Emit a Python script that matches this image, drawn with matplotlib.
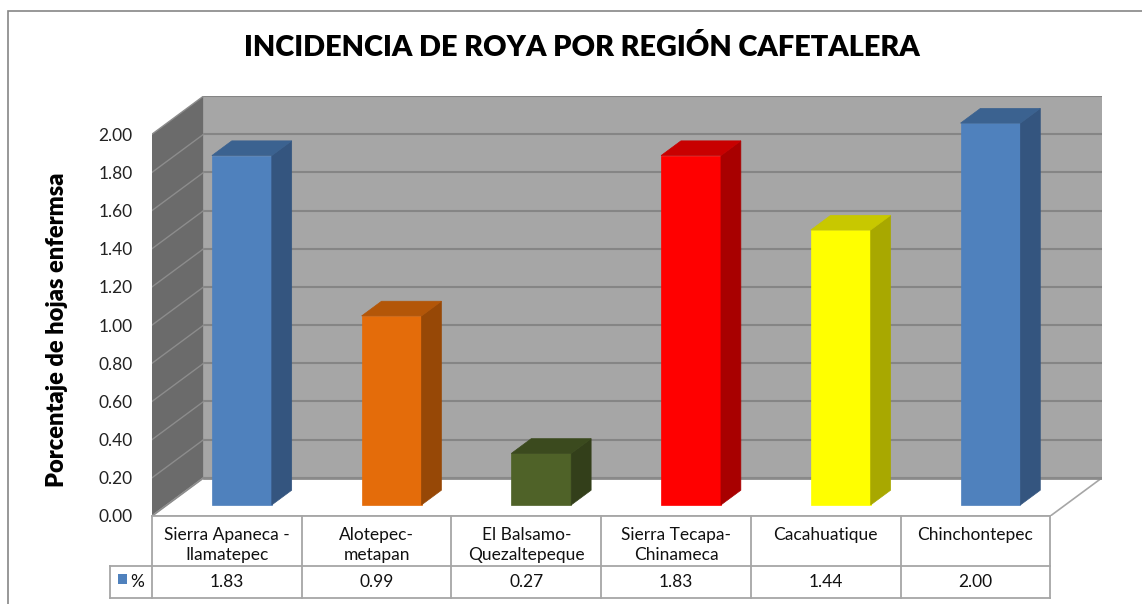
import matplotlib
matplotlib.use('Agg')
import matplotlib.pyplot as plt
from matplotlib.patches import Polygon, Rectangle
import numpy as np

plt.rcParams['font.family'] = ['Lato', 'DejaVu Sans']

regions = ['Sierra Apaneca -\nIlamatepec', 'Alotepec-\nmetapan', 'El Balsamo-\nQuezaltepeque',
           'Sierra Tecapa-\nChinameca', 'Cacahuatique', 'Chinchontepec']
values = [1.83, 0.99, 0.27, 1.83, 1.44, 2.00]
value_labels = ['1.83', '0.99', '0.27', '1.83', '1.44', '2.00']
front_colors = ['#4f81bd', '#e46c0a', '#4f6228', '#ff0000', '#ffff00', '#4f81bd']
side_colors = ['#34557f', '#974806', '#333f1a', '#a80000', '#a8a800', '#34557f']
top_colors = ['#3b6290', '#b35608', '#3b4a1e', '#c80000', '#c8c800', '#3b6290']
yticks = np.arange(0, 2.01, 0.2)

DX, DY = 0.345, 0.2      # depth offset (categories, value units)
F0, F1 = 0.29, 0.675      # bar depth start/end fraction
n = len(values)

def P(x, v, f):
    return (x + f * DX, v + f * DY)

W, H = 1142, 604
fig = plt.figure(figsize=(W / 100, H / 100), dpi=100)
ax = fig.add_axes([152 / W, (H - 516) / H, 950 / W, 420 / H])
ax.set_xlim(0, n + DX)
ax.set_ylim(0, 2 + DY)
for s in ax.spines.values():
    s.set_visible(False)
ax.patch.set_visible(False)

# walls and floor
ax.add_patch(Polygon([P(0, 0, 1), P(n, 0, 1), P(n, 2, 1), P(0, 2, 1)], closed=True,
                     facecolor='#a6a6a6', edgecolor='none', zorder=1))
ax.add_patch(Polygon([P(0, 0, 0), P(0, 0, 1), P(0, 2, 1), P(0, 2, 0)], closed=True,
                     facecolor='#6b6b6b', edgecolor='none', zorder=1))
ax.add_patch(Polygon([P(0, 0, 0), P(0, 0, 1), P(n, 0, 1), P(n, 0, 0)], closed=True,
                     facecolor='white', edgecolor='#a6a6a6', lw=1.2, zorder=1))
for v in yticks:
    a, b = P(0, v, 1), P(n, v, 1)
    ax.plot([a[0], b[0]], [a[1], b[1]], color='#858585', lw=1.5, zorder=2)
    c = P(0, v, 0)
    ax.plot([c[0], a[0]], [c[1], a[1]], color='#8c8c8c', lw=1.0, zorder=2)
a, b = P(0, 0, 1), P(n, 0, 1)
ax.plot([a[0], b[0]], [a[1], b[1]], color='#8a8a8a', lw=2, zorder=2)

# bars
for i, v in enumerate(values):
    x0, x1 = i + 0.3, i + 0.7
    front = [P(x0, 0, F0), P(x1, 0, F0), P(x1, v, F0), P(x0, v, F0)]
    side = [P(x1, 0, F0), P(x1, 0, F1), P(x1, v, F1), P(x1, v, F0)]
    top = [P(x0, v, F0), P(x1, v, F0), P(x1, v, F1), P(x0, v, F1)]
    ax.add_patch(Polygon(front, closed=True, facecolor=front_colors[i], edgecolor=front_colors[i], lw=0.5, zorder=3))
    ax.add_patch(Polygon(side, closed=True, facecolor=side_colors[i], edgecolor=side_colors[i], lw=0.5, zorder=3))
    ax.add_patch(Polygon(top, closed=True, facecolor=top_colors[i], edgecolor=top_colors[i], lw=0.5, zorder=3))

ax.set_xticks([])
ax.set_yticks(yticks)
ax.set_yticklabels(['%.2f' % t for t in yticks], fontsize=12.5, color='#222222')
ax.tick_params(axis='y', length=0, pad=14)

# data table
r1 = -50 / 190.9
r2 = -82 / 190.9
lab_x = -42 / 149.7
tc = '#a6a6a6'
kw = dict(color=tc, lw=1.3, clip_on=False, zorder=4)
ax.plot([0, n], [0, 0], **kw)
ax.plot([lab_x, n], [r1, r1], **kw)
ax.plot([lab_x, n], [r2, r2], **kw)
ax.plot([lab_x, lab_x], [r1, r2], **kw)
for k in range(n + 1):
    ax.plot([k, k], [0, r2], **kw)
for i in range(n):
    ax.text(i + 0.5, -11 / 190.9, regions[i], ha='center', va='top', fontsize=12.5,
            linespacing=1.3, color='#111111', clip_on=False)
    ax.text(i + 0.5, (r1 + r2) / 2, value_labels[i], ha='center', va='center', fontsize=12.5,
            color='#111111', clip_on=False)
ax.add_patch(Rectangle((-34 / 149.7, -68 / 190.9), 9 / 149.7, 10 / 190.9, facecolor='#4f81bd',
                       edgecolor='none', clip_on=False))
ax.text(-22 / 149.7, (r1 + r2) / 2, '%', ha='left', va='center', fontsize=12.5, color='#111111', clip_on=False)

fig.text(582 / W, (H - 47) / H, 'INCIDENCIA DE ROYA POR REGIÓN CAFETALERA', ha='center', va='center',
         fontsize=20.8, fontweight='heavy', color='black')
fig.text(57 / W, (H - 330) / H, 'Porcentaje de hojas enfermsa', ha='center', va='center',
         rotation=90, fontsize=17, fontweight='heavy', color='black')

# chart border
fig.add_artist(Rectangle((8 / W, -0.05), 1.2, (H - 11) / H + 0.05, transform=fig.transFigure,
                         facecolor='none', edgecolor='#868686', lw=1.2))

fig.savefig('out.png', dpi=100)
